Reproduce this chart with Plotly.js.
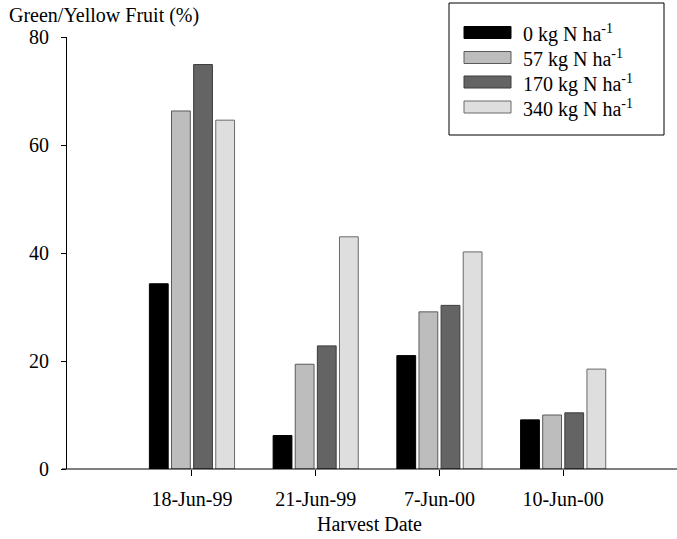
<!DOCTYPE html>
<html>
<head>
<meta charset="utf-8">
<script src="https://cdn.plot.ly/plotly-3.0.1.min.js"></script>
<style>html,body{margin:0;padding:0;background:#fff;}#chart{width:677px;height:539px;}</style>
</head>
<body>
<div id="chart"></div>
<script>
const categories = ["18-Jun-99", "21-Jun-99", "7-Jun-00", "10-Jun-00"];
const seriesNames = ["0 kg N ha<sup>-1</sup>", "57 kg N ha<sup>-1</sup>", "170 kg N ha<sup>-1</sup>", "340 kg N ha<sup>-1</sup>"];
const n0 = [34.3, 6.2, 21.0, 9.1];
const n57 = [66.3, 19.4, 29.1, 10.0];
const n170 = [74.9, 22.8, 30.3, 10.4];
const n340 = [64.6, 43.0, 40.2, 18.5];
const yTicks = [0, 20, 40, 60, 80];

const seriesValues = [n0, n57, n170, n340];
const fills = ["#000000", "#bdbdbd", "#646464", "#dedede"];
const outlines = ["#000000", "#5a5a5a", "#3c3c3c", "#6a6a6a"];

const L = 67, T = 37, W = 610, H = 432;
const px = x => (x - L) / W;
const py = y => (T + H - y) / H;
const FONT = "Liberation Serif";

const traces = seriesValues.map((v, i) => ({
  type: "bar",
  x: categories,
  y: v,
  name: seriesNames[i],
  marker: {color: fills[i], line: {color: outlines[i], width: 1}},
  hoverinfo: "skip"
}));

const shapes = [
  {type: "line", xref: "paper", yref: "paper", x0: px(62), x1: 1, y0: 0, y1: 0, line: {color: "#000", width: 1}},
  {type: "rect", xref: "paper", yref: "paper", x0: px(449), x1: px(664), y0: py(3), y1: py(135), line: {color: "#000", width: 1}, fillcolor: "rgba(0,0,0,0)"}
];
const annotations = [
  {xref: "paper", yref: "paper", x: px(7), y: py(15), xanchor: "left", yanchor: "middle", showarrow: false,
   text: "Green/Yellow Fruit (%)", font: {family: FONT, size: 20, color: "#000"}},
  {xref: "paper", yref: "paper", x: px(369), y: py(524), xanchor: "center", yanchor: "middle", showarrow: false,
   text: "Harvest Date", font: {family: FONT, size: 20, color: "#000"}}
];
const swCenters = [32.5, 57.5, 82, 107];
seriesNames.forEach((nm, i) => {
  const c = swCenters[i];
  shapes.push({type: "rect", xref: "paper", yref: "paper", x0: px(464), x1: px(511), y0: py(c - 6), y1: py(c + 6),
    fillcolor: fills[i], line: {color: outlines[i], width: 1}});
  annotations.push({xref: "paper", yref: "paper", x: px(521), y: py(c + 1), xanchor: "left", yanchor: "middle", showarrow: false,
    text: nm, font: {family: FONT, size: 20, color: "#000"}});
});

const layout = {
  width: 677, height: 539,
  margin: {l: L, r: 677 - L - W, t: T, b: 539 - T - H, pad: 0},
  paper_bgcolor: "#fff", plot_bgcolor: "#fff",
  showlegend: false,
  barmode: "group", bargap: 0.285, bargroupgap: 0.15,
  font: {family: FONT, size: 20, color: "#000"},
  xaxis: {
    type: "category", range: [-1.01, 3.92], showgrid: false, zeroline: false,
    showline: false, ticks: "outside", ticklen: 6, tickcolor: "#000", tickwidth: 1,
    ticklabelstandoff: 6, tickfont: {family: FONT, size: 20, color: "#000"}
  },
  yaxis: {
    range: [0, 80], tickvals: yTicks, showgrid: false, zeroline: false,
    showline: true, linecolor: "#000", linewidth: 1, ticks: "outside", ticklen: 5, tickcolor: "#000",
    ticklabelstandoff: 8, tickfont: {family: FONT, size: 20, color: "#000"}
  },
  shapes: shapes,
  annotations: annotations
};

Plotly.newPlot("chart", traces, layout, {staticPlot: true, displayModeBar: false});
</script>
</body>
</html>
